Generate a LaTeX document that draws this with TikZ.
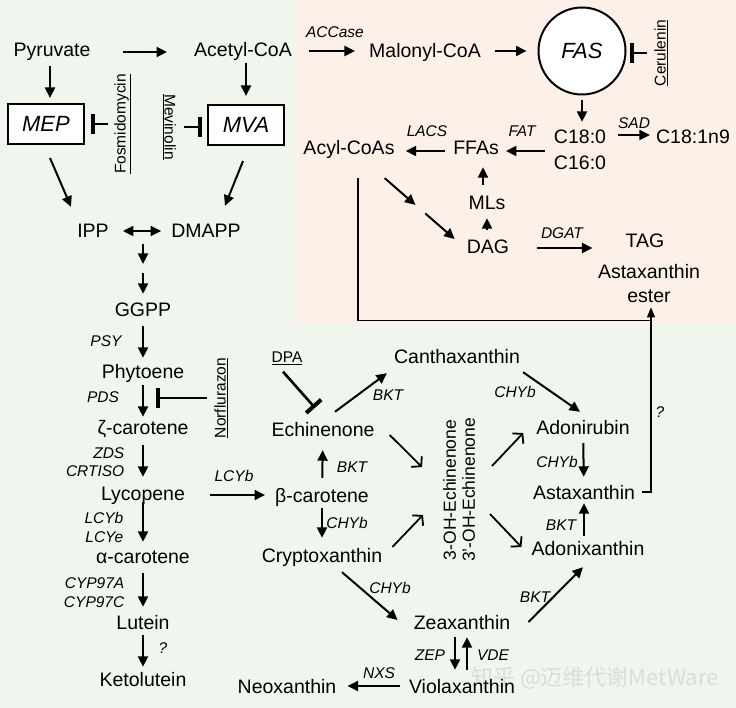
\documentclass[tikz,border=0pt]{standalone}
\usepackage{fontspec}
\setmainfont{Liberation Sans}
\newfontfamily\cjkfont{Noto Sans CJK SC}
\usetikzlibrary{arrows.meta,calc}
\definecolor{bggreen}{RGB}{240,246,238}
\definecolor{bgpeach}{RGB}{252,240,232}
\definecolor{wmark}{RGB}{216,222,216}
\newcommand\fsmain{\fontsize{19.5}{24}\selectfont}
\newcommand\fslbl{\fontsize{15.5}{18}\selectfont}
\newcommand\fsbox{\fontsize{22}{26}\selectfont}
\newcommand\fsoh{\fontsize{17.5}{19}\selectfont}
\begin{document}
\begin{tikzpicture}[x=1pt,y=-1pt,
 m/.style={font=\fsmain, inner sep=1pt, text height=14pt, text depth=0pt},
 lbl/.style={font=\fslbl\itshape, inner sep=0.5pt, text height=11pt, text depth=0pt},
 itxt/.style={font=\fslbl, inner sep=1pt, text height=11pt, text depth=0pt},
 pbox/.style={draw, line width=2pt, fill=white, minimum width=76pt, minimum height=40pt, inner sep=0pt, font=\fsbox\itshape, text height=15.5pt, text depth=0pt},
 arr/.style={line width=2pt, -{Triangle[length=10.5pt,width=10pt]}},
 darr/.style={line width=2pt, {Triangle[length=10.5pt,width=10pt]}-{Triangle[length=10.5pt,width=10pt]}},
 oarr/.style={line width=1.8pt, -{Straight Barb[length=6.5pt,width=15pt]}},
 inh/.style={line width=2.6pt, -{Bar[width=20pt,line width=4pt]}},
 fline/.style={line width=1.3pt},
 farr/.style={line width=1.3pt, -{Triangle[length=10pt,width=8pt]}}
]
\useasboundingbox (0,0) rectangle (736,708);
\fill[bggreen] (0,0) rectangle (736,708);
\fill[bgpeach] (298,0) rectangle (736,324);

% watermark
\node[font=\cjkfont\fontsize{22}{22}\selectfont, text=wmark, inner sep=0pt] (wm) at (595,678) {知乎 @迈维代谢MetWare};

% main nodes
\node[m] (pyr) at (52,50) {Pyruvate};
\node[m] (acoa) at (243,50) {Acetyl-CoA};
\node[m] (mcoa) at (425,51) {Malonyl-CoA};
\node[draw,circle,line width=2pt,fill=white,minimum size=87pt,inner sep=0pt,font=\fsbox\itshape,text height=15.5pt,text depth=0pt] (fas) at (582,51) {FAS};
\node[itxt,rotate=90] (ceru) at (660,53) {\underline{Cerulenin}};
\node[m] (c18) at (580,137) {C18:0};
\node[m] (c16) at (580,163) {C16:0};
\node[m] (c181) at (693,137) {C18:1n9};
\node[m] (ffa) at (476,148) {FFAs};
\node[m] (acyl) at (349,148) {Acyl-CoAs};
\node[m] (mls) at (487,203) {MLs};
\node[m] (dag) at (488,247) {DAG};
\node[m] (tag) at (645,241) {TAG};
\node[font=\fsmain, align=center, inner sep=1pt] (ester) at (649,284) {Astaxanthin\\ester};

\node[pbox] (mep) at (46,124) {MEP};
\node[pbox] (mva) at (246,125) {MVA};
\node[itxt,rotate=90] (fosm) at (120,124) {\underline{Fosmidomycin}};
\node[itxt,rotate=-90] (mevi) at (170,127) {\underline{Mevinolin}};
\node[m] (ipp) at (93,231) {IPP};
\node[m] (dmapp) at (206,231) {DMAPP};
\node[m] (ggpp) at (143,310) {GGPP};
\node[m] (phy) at (143,371) {Phytoene};
\node[itxt,rotate=90] (norf) at (220,398) {\underline{Norflurazon}};
\node[m] (zeta) at (143,427) {ζ-carotene};
\node[m] (lyc) at (143,493) {Lycopene};
\node[m] (alpha) at (143,556) {α-carotene};
\node[m] (lut) at (143,622) {Lutein};
\node[m] (keto) at (143,679) {Ketolutein};

\node[m] (beta) at (322,495) {β-carotene};
\node[m] (echi) at (323,429) {Echinenone};
\node[itxt] (dpa) at (287,357) {\underline{DPA}};
\node[m] (cantha) at (457,356) {Canthaxanthin};
\node[m] (crypt) at (322,555) {Cryptoxanthin};
\node[font=\fsoh, align=center, rotate=90, inner sep=1pt] (oh) at (459,490) {3-OH-Echinenone\\3’-OH-Echinenone};
\node[m] (zea) at (462,622) {Zeaxanthin};
\node[m] (viola) at (462,686) {Violaxanthin};
\node[m] (neo) at (287,686) {Neoxanthin};
\node[m] (adonr) at (583,427) {Adonirubin};
\node[m] (asta) at (584,492) {Astaxanthin};
\node[m] (adonx) at (588,548) {Adonixanthin};

% enzyme labels
\node[lbl] (lACC) at (335,32) {ACCase};
\node[lbl] (lSAD) at (634,123) {SAD};
\node[lbl] (lFAT) at (522,131) {FAT};
\node[lbl] (lLACS) at (427,131) {LACS};
\node[lbl] (lDGAT) at (562,233) {DGAT};
\node[lbl] (lPSY) at (106,341) {PSY};
\node[lbl] (lPDS) at (103,397) {PDS};
\node[lbl,anchor=east] (lZDS) at (125,453) {ZDS};
\node[lbl,anchor=east] (lCRT) at (125,471) {CRTISO};
\node[lbl] (lLCYa) at (234,476) {LCYb};
\node[lbl,anchor=east] (lLCYb) at (124,518) {LCYb};
\node[lbl,anchor=east] (lLCYe) at (124,537) {LCYe};
\node[lbl,anchor=east] (lCYPA) at (125,583) {CYP97A};
\node[lbl,anchor=east] (lCYPC) at (125,602) {CYP97C};
\node[lbl] (lq1) at (163,648) {?};
\node[lbl] (lBKT1) at (352,467) {BKT};
\node[lbl] (lBKT2) at (388,395) {BKT};
\node[lbl] (lCHY1) at (347,523) {CHYb};
\node[lbl] (lCHY2) at (390,588) {CHYb};
\node[lbl] (lCHY3) at (515,392) {CHYb};
\node[lbl] (lCHY4) at (557,462) {CHYb};
\node[lbl] (lBKT3) at (561,525) {BKT};
\node[lbl] (lBKT4) at (535,597) {BKT};
\node[lbl] (lZEP) at (430,655) {ZEP};
\node[lbl] (lVDE) at (493,655) {VDE};
\node[lbl] (lNXS) at (379,673) {NXS};
\node[lbl] (lq2) at (660,412) {?};

% top row
\draw[arr] ($(pyr.east)+(31,2)$) -- ($(acoa.west)+(-26,2)$);
\draw[arr] ($(acoa.east)+(16,1)$) -- ($(mcoa.west)+(-13,0)$);
\draw[arr] ($(mcoa.east)+(13,0)$) -- ($(mcoa.east -| fas.west)+(-11,0)$);
\draw[inh, shorten <=6.5pt, shorten >=3pt] (ceru.north) -- (ceru.north -| fas.east);
\draw[arr, shorten <=5pt, shorten >=7pt] (fas.south) -- (fas.south |- c18.north);
\draw[arr] ($(c18.east)+(11,-2)$) -- ($(c181.west)+(-5,-2)$);
\coordinate (cmid) at ($(c18.west)!0.5!(c16.west)$);
\draw[arr] ($(cmid)+(-8,1)$) -- ($(ffa.east)+(6,3)$);
\draw[arr] ($(ffa.west)+(-7,3)$) -- ($(acyl.east)+(10,3)$);
\draw[arr] ($(mls.north)+(-4,-10)$) -- ($(mls.north |- ffa.south)+(-4,11)$);
\draw[arr] ($(dag.north)+(-1,-9)$) -- ($(mls.south)+(0,7)$);
\coordinate (ad1) at ($(acyl.south east)+(-11,22)$);
\coordinate (ad2) at ($(dag.west)+(-11,-8)$);
\draw[arr] (ad1) -- ($(ad1)!0.44!(ad2)$);
\draw[arr] ($(ad1)!0.58!(ad2)$) -- (ad2);
\draw[arr] ($(dag.east)+(27,1)$) -- ($(dag.east -| tag.west)+(-32,1)$);
\draw[fline] ($(acyl.south)+(9,22)$) |- ($(ester.south)+(2,16)$);
\draw[farr] ($(asta.east)+(6,0)$) -| ($(ester.south)+(2,3)$);

% left column
\draw[arr] ($(pyr.south)+(-2,8)$) -- ($(pyr.south |- mep.north)+(-2,-5)$);
\draw[arr] ($(acoa.south)+(3,5)$) -- ($(acoa.south |- mva.north)+(3,-8)$);
\draw[inh, shorten <=5.5pt, shorten >=6pt] (fosm.north) -- (fosm.north -| mep.east);
\draw[inh, shorten <=7.5pt, shorten >=5pt] (mevi.north) -- (mevi.north -| mva.west);
\draw[arr] ($(mep.south)+(4,13)$) -- ($(ipp.north)+(-22,-16)$);
\draw[arr] ($(mva.south)+(-3,15)$) -- ($(dmapp.north)+(19,-17)$);
\draw[darr, shorten <=13pt, shorten >=9pt] (ipp) -- (dmapp);
\coordinate (idm) at ($(ipp.east)!0.5!(dmapp.west)$);
\draw[arr] ($(idm)+(3,13)$) -- ($(idm)+(3,33)$);
\draw[arr] ($(idm |- ggpp.north)+(3,-29)$) -- ($(idm |- ggpp.north)+(3,-8)$);
\draw[arr, shorten <=8pt, shorten >=5pt] (ggpp) -- (phy);
\draw[arr, shorten <=6pt, shorten >=2pt] (phy) -- (zeta);
\draw[inh, shorten <=6.5pt, shorten >=13pt] (norf.north) -- (norf.north -| phy.south);
\draw[arr, shorten <=10pt, shorten >=8pt] (zeta) -- (lyc);
\draw[arr] ($(lyc.east)+(24,2)$) -- ($(beta.west)+(-9,0)$);
\draw[arr, shorten <=1pt, shorten >=6pt] (lyc) -- (alpha);
\draw[arr, shorten <=9pt, shorten >=7pt] (alpha) -- (lut);
\draw[arr, shorten <=5pt, shorten >=4pt] (lut) -- (keto);

% carotenoid network
\draw[inh] ($(dpa.south)+(-4,8)$) -- ($(echi.north)+(-8,-13)$);
\draw[arr, shorten <=9pt, shorten >=13pt] (beta) -- (echi);
\draw[arr] ($(echi.north)+(12,-9)$) -- ($(cantha.south west)+(-6,9)$);
\draw[arr, shorten <=5pt, shorten >=9pt] (beta) -- (crypt);
\draw[oarr] ($(echi.east)+(14,6)$) -- ($(oh.center)+(-37,-23)$);
\draw[oarr] ($(crypt.east)+(9,-8)$) -- ($(oh.center)+(-36,25)$);
\draw[oarr] ($(oh.center)+(33,-24)$) -- ($(adonr.west)+(-12,6)$);
\draw[oarr] ($(oh.center)+(31,24)$) -- ($(adonx.west)+(-9,-1)$);
\draw[arr] ($(crypt.south)+(20,9)$) -- ($(zea.west)+(-15,-2)$);
\draw[arr] ($(cantha.south east)+(2,8)$) -- ($(adonr.north)+(-3,-7)$);
\draw[arr, shorten <=8pt, shorten >=7pt] (adonr) -- (asta);
\draw[arr] ($(adonx.north -| asta.south)+(0,-4)$) -- ($(asta.south)+(0,3)$);
\draw[arr] ($(zea.east)+(17,0)$) -- ($(adonx.south)+(-5,11)$);
\draw[arr] ($(zea.south)+(-7,7)$) -- ($(viola.north)+(-7,-8)$);
\draw[arr] ($(viola.north)+(5,-8)$) -- ($(zea.south)+(5,7)$);
\draw[arr, shorten <=8pt, shorten >=10pt] (viola) -- (neo);
\end{tikzpicture}
\end{document}
